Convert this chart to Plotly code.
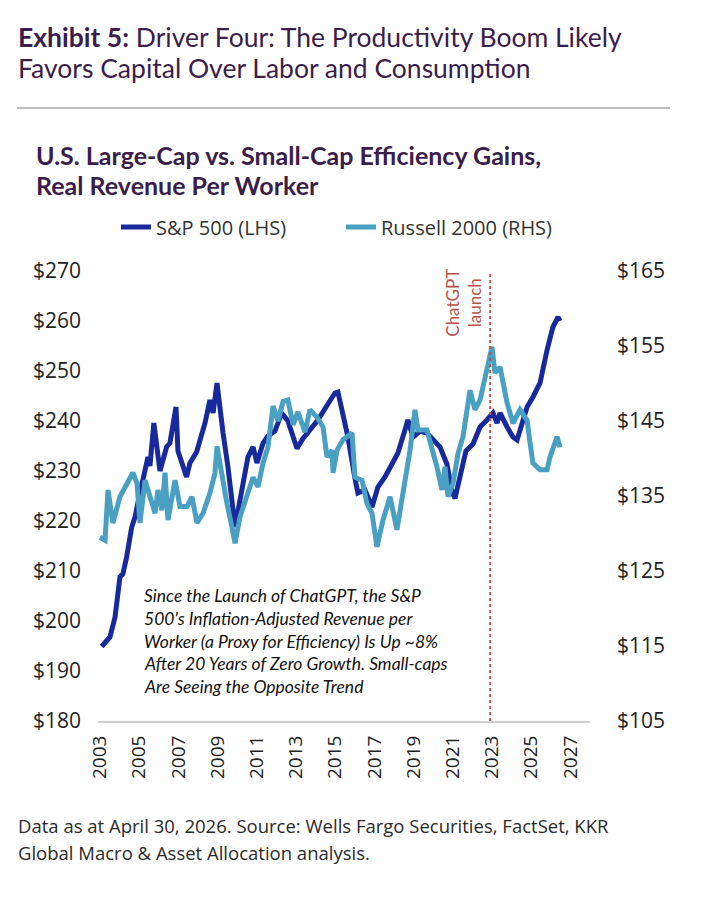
import plotly.graph_objects as go

# ---------------- data ----------------
sp_years = [2003.09, 2003.51, 2003.77, 2004.02, 2004.17, 2004.36, 2004.62, 2004.79, 2005.04, 2005.45,
            2005.55, 2005.75, 2006.06, 2006.40, 2006.57, 2006.88, 2006.98, 2007.42, 2007.59, 2007.93,
            2008.36, 2008.61, 2008.77, 2008.97, 2009.28, 2009.53, 2009.89, 2010.04, 2010.55, 2010.81,
            2011.01, 2011.32, 2011.57, 2011.93, 2012.27, 2012.59, 2013.05, 2013.36, 2013.61, 2014.12,
            2014.63, 2014.99, 2015.14, 2015.50, 2015.65, 2016.01, 2016.16, 2016.52, 2016.88, 2017.18,
            2017.54, 2017.90, 2018.20, 2018.56, 2018.71, 2018.97, 2019.33, 2019.68, 2020.35, 2020.70,
            2020.96, 2021.11, 2021.37, 2021.67, 2022.03, 2022.39, 2022.74, 2023.05, 2023.26, 2023.41,
            2023.77, 2024.07, 2024.28, 2024.43, 2024.79, 2025.09, 2025.45, 2025.81, 2026.11, 2026.37,
            2026.47]
sp_values = [194.9, 196.8, 200.8, 208.8, 209.4, 212.8, 218.8, 220.8, 225.6, 232.8,
             231.0, 239.6, 230.0, 234.8, 235.6, 242.8, 234.0, 228.8, 231.6, 233.8,
             239.6, 244.2, 241.6, 247.6, 237.6, 230.8, 218.8, 222.0, 232.8, 234.8,
             231.6, 235.6, 237.0, 238.0, 241.6, 240.0, 234.5, 236.5, 237.6, 240.2,
             243.4, 245.6, 245.8, 240.0, 236.8, 228.5, 225.6, 226.2, 222.8, 226.8,
             228.8, 231.4, 233.6, 238.2, 240.2, 236.8, 238.0, 237.6, 234.8, 231.4,
             226.0, 224.5, 229.0, 234.0, 235.4, 238.8, 240.2, 241.6, 239.6, 241.6,
             238.8, 236.8, 236.2, 238.2, 242.8, 244.8, 247.6, 254.2, 258.8, 260.8,
             260.0]

rut_years = [2003.00, 2003.26, 2003.41, 2003.66, 2004.02, 2004.38, 2004.68, 2004.89, 2005.04, 2005.30,
             2005.55, 2005.81, 2005.96, 2006.16, 2006.32, 2006.47, 2006.83, 2007.08, 2007.44, 2007.69,
             2007.95, 2008.26, 2008.61, 2008.87, 2008.97, 2009.22, 2009.48, 2009.73, 2009.89, 2010.14,
             2010.50, 2010.81, 2011.06, 2011.32, 2011.57, 2011.83, 2012.08, 2012.34, 2012.59, 2012.85,
             2013.10, 2013.46, 2013.71, 2014.07, 2014.38, 2014.58, 2014.84, 2014.89, 2015.09, 2015.40,
             2015.86, 2016.01, 2016.37, 2016.62, 2016.88, 2017.13, 2017.44, 2017.80, 2018.15, 2018.46,
             2018.82, 2019.07, 2019.22, 2019.68, 2019.99, 2020.19, 2020.45, 2020.60, 2020.76, 2021.01,
             2021.27, 2021.52, 2021.88, 2022.13, 2022.39, 2022.64, 2023.00, 2023.15, 2023.41, 2023.77,
             2024.07, 2024.43, 2024.79, 2024.94, 2025.09, 2025.45, 2025.81, 2025.96, 2026.32, 2026.47]
rut_values = [129.5, 129.1, 135.8, 131.4, 134.9, 136.7, 138.1, 136.7, 131.4, 137.1,
              134.9, 132.7, 135.8, 133.1, 138.1, 131.8, 137.1, 133.6, 133.6, 134.9,
              131.4, 132.7, 135.4, 138.1, 141.6, 137.5, 134.0, 130.9, 128.7, 132.2,
              134.9, 137.5, 136.2, 139.4, 141.5, 147.0, 145.0, 147.6, 147.8, 144.5,
              146.2, 143.5, 146.5, 145.5, 144.2, 140.2, 141.1, 138.1, 141.1, 142.5,
              143.4, 137.5, 137.1, 134.0, 132.7, 128.2, 131.8, 134.9, 130.5, 135.8,
              141.1, 146.5, 143.8, 143.8, 141.1, 138.9, 135.8, 138.9, 134.9, 136.7,
              140.7, 142.9, 149.1, 146.5, 147.8, 150.9, 154.9, 151.4, 152.2, 147.4,
              144.7, 146.5, 145.1, 142.1, 139.4, 138.5, 138.5, 140.2, 142.9, 141.5]

x_ticks = list(range(2003, 2028, 2))
left_ticks = list(range(180, 271, 10))
right_ticks = list(range(105, 166, 10))
chatgpt_launch = 2022.91

# ---------------- styling ----------------
W, H = 712, 910
L, R, T, B = 98, 590, 271, 721
PURPLE = "#3a1d4a"
SP_COLOR = "#17299b"
RUT_COLOR = "#4aa0c2"
RED = "#b5544a"
FONT = "Lato"
TICKFONT = "Open Sans"


def px(xp):
    return (xp - L) / (R - L)


def py(yp):
    return (B - yp) / (B - T)


fig = go.Figure()
fig.add_trace(go.Scatter(x=sp_years, y=sp_values, mode="lines", name="S&P 500 (LHS)",
                         line=dict(color=SP_COLOR, width=5), yaxis="y"))
fig.add_trace(go.Scatter(x=rut_years, y=rut_values, mode="lines", name="Russell 2000 (RHS)",
                         line=dict(color=RUT_COLOR, width=5), yaxis="y2"))

fig.add_shape(type="line", xref="x", yref="paper", x0=chatgpt_launch, x1=chatgpt_launch,
              y0=0, y1=1, line=dict(color=RED, width=2, dash="dot"))

# separator line under the exhibit title
fig.add_shape(type="line", xref="paper", yref="paper", x0=px(17), x1=px(670), y0=py(108), y1=py(108),
              line=dict(color="#bdbdbd", width=2))


def text_line(txt, xp, yp, size, color, family=FONT, style="normal"):
    return dict(text=txt, xref="paper", yref="paper", x=px(xp), y=py(yp), xanchor="left",
                yanchor="middle", align="left", showarrow=False,
                font=dict(family=family, size=size, color=color, style=style))


annotations = [
    text_line("<b>Exhibit 5:</b> Driver Four: The Productivity Boom Likely", 16, 37, 26.5, PURPLE),
    text_line("Favors Capital Over Labor and Consumption", 16, 68, 26.5, PURPLE),
    text_line("<b>U.S. Large-Cap vs. Small-Cap Efficiency Gains,</b>", 34, 155, 25, PURPLE),
    text_line("<b>Real Revenue Per Worker</b>", 34, 185, 25, PURPLE),
    text_line("Since the Launch of ChatGPT, the S&P", 142, 595, 17.5, "#111111", style="italic"),
    text_line("500's Inflation-Adjusted Revenue per", 142, 618, 17.5, "#111111", style="italic"),
    text_line("Worker (a Proxy for Efficiency) Is Up ~8%", 142, 641, 17.5, "#111111", style="italic"),
    text_line("After 20 Years of Zero Growth. Small-caps", 142, 663, 17.5, "#111111", style="italic"),
    text_line("Are Seeing the Opposite Trend", 142, 686, 17.5, "#111111", style="italic"),
    dict(text="ChatGPT<br>launch", textangle=-90,
         xref="x", yref="paper", x=chatgpt_launch, xshift=-4, y=py(267), xanchor="right", yanchor="top",
         align="center", showarrow=False, font=dict(family=FONT, size=17, color=RED)),
    text_line("Data as at April 30, 2026. Source: Wells Fargo Securities, FactSet, KKR", 16, 825, 18.5,
              "#2a2a2a", family=TICKFONT),
    text_line("Global Macro & Asset Allocation analysis.", 16, 852, 18.5, "#2a2a2a", family=TICKFONT),
]

fig.update_layout(
    width=W, height=H,
    margin=dict(l=L, r=W - R, t=T, b=H - B, pad=0),
    paper_bgcolor="white", plot_bgcolor="white",
    font=dict(family=FONT, color="#222222"),
    showlegend=True,
    legend=dict(orientation="h", x=px(116), y=py(227), xanchor="left", yanchor="middle",
                font=dict(family=TICKFONT, size=20, color="#333333"), bgcolor="rgba(0,0,0,0)",
                entrywidth=180, tracegroupgap=0),
    xaxis=dict(range=[2002.9, 2028.0], tickmode="array", tickvals=x_ticks, ticktext=[str(t) for t in x_ticks],
               tickangle=-90, showgrid=False, zeroline=False, showline=True, linecolor="#cfcfcf",
               linewidth=2, ticks="", tickfont=dict(family=TICKFONT, size=19, color="#222222"),
               ticklabelstandoff=5),
    yaxis=dict(range=[180, 270], tickmode="array", tickvals=left_ticks,
               ticktext=[f"${v}" for v in left_ticks], showgrid=False, zeroline=False, showline=False,
               ticks="", tickfont=dict(family=TICKFONT, size=21, color="#222222"), ticklabelstandoff=16),
    yaxis2=dict(range=[105, 165], tickmode="array", tickvals=right_ticks,
                ticktext=[f"${v}" for v in right_ticks], overlaying="y", side="right", showgrid=False,
                zeroline=False, showline=False, ticks="", tickfont=dict(family=TICKFONT, size=21, color="#222222"),
                ticklabelstandoff=26),
    annotations=annotations,
)

fig.write_html("out.html")
